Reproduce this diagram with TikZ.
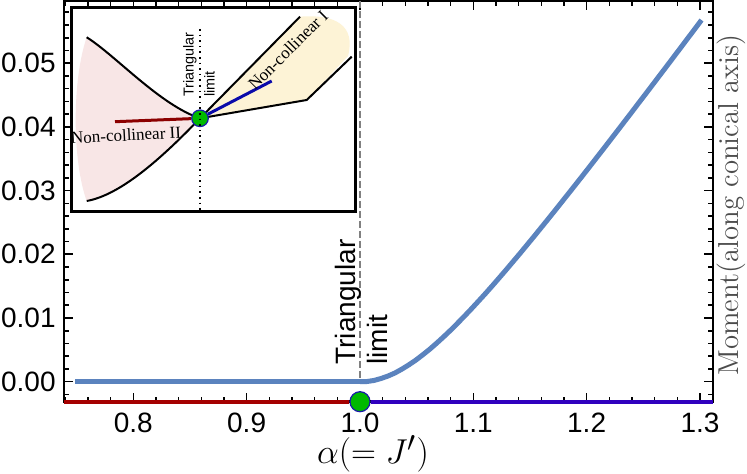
\documentclass[tikz,border=0pt]{standalone}
\usepackage{fontspec}
\setsansfont{Liberation Sans}
\newfontfamily\timesfont{Liberation Serif}
\usetikzlibrary{positioning}
\pgfdeclarelayer{ft}
\pgfsetlayers{main,ft}
\definecolor{curveblue}{RGB}{91,131,190}
\definecolor{lowred}{RGB}{165,0,0}
\definecolor{highblue}{RGB}{48,0,190}
\definecolor{dotgreen}{RGB}{0,185,0}
\definecolor{dotedge}{RGB}{25,25,170}
\definecolor{pinkfill}{RGB}{248,230,230}
\definecolor{creamfill}{RGB}{253,243,214}
\definecolor{incred}{RGB}{140,0,0}
\definecolor{incblue}{RGB}{10,10,170}
\tikzstyle{frame}=[draw=black,line width=1.3pt]
\tikzstyle{tk}=[line width=0.8pt]
\tikzstyle{ticklab}=[font=\sffamily\fontsize{14}{16}\selectfont,inner sep=0pt]
\tikzstyle{curve}=[draw=curveblue,line width=2.5pt]
\tikzstyle{phasedot}=[circle,fill=dotgreen,draw=dotedge,line width=0.6pt,inner sep=0pt]
\tikzstyle{bound}=[draw=black,line width=1pt]
\tikzstyle{inlab}=[font=\timesfont\fontsize{8.5}{10}\selectfont,inner sep=0pt]

\begin{document}
\begin{tikzpicture}[x=0.5pt,y=-0.5pt]
  \useasboundingbox (0,0) rectangle (747,474);
  % frame and ticks
  \draw[frame] (64,1) rectangle (713,401.7);
  \foreach \j in {-1,...,29}{
    \draw[tk] (64,{381.7-12.74*\j}) -- ++(5,0);
    \draw[tk] (713,{381.7-12.74*\j}) -- ++(-5,0);
  }
  \foreach \j in {0,5,...,25}{
    \draw[tk] (64,{381.7-12.74*\j}) -- ++(9,0);
    \draw[tk] (713,{381.7-12.74*\j}) -- ++(-9,0);
  }
  \foreach \i in {37,...,65}{
    \draw[tk] ({360+22.667*(\i-50)},401.7) -- ++(0,-5);
    \draw[tk] ({360+22.667*(\i-50)},1) -- ++(0,5);
  }
  \foreach \i in {40,45,...,65}{
    \draw[tk] ({360+22.667*(\i-50)},401.7) -- ++(0,-9);
    \draw[tk] ({360+22.667*(\i-50)},1) -- ++(0,9);
  }
  \foreach \v [count=\k from 0] in {0.00,0.01,0.02,0.03,0.04,0.05}
    \node[ticklab,anchor=east] (ylab\k) at (56,{381.7-63.7*\k}) {\v};
  \foreach \v [count=\k from 0] in {0.8,0.9,1.0,1.1,1.2,1.3}
    \node[ticklab] (xlab\k) at ({133.3+113.33*\k},423) {\v};
  % triangular limit
  \coordinate (limtop) at (360,1);
  \coordinate (limbot) at (360,381.7);
  \draw[black!50,line width=1pt,dash pattern=on 3.5pt off 1.5pt] (limtop) -- (limbot);
  \node[font=\sffamily\fontsize{14}{16}\selectfont,rotate=90,anchor=west,align=left,inner sep=0pt] (trilim) at (361,365) {Triangular\\limit};
  % moment curve
  \draw[curve] (75,381.7) -- (limbot);
  \draw[curve] plot[domain=0:0.3015,samples=50,variable=\d] ({360+1133.3*\d},{381.7-1560.65*(sqrt(\d*\d+0.0064)-0.08)});
  % phase line on the axis
  \begin{pgfonlayer}{ft}
    \node[phasedot,minimum size=10pt] (dotM) at (360,401.7) {};
  \end{pgfonlayer}
  \coordinate (axl) at (64,401.7);
  \coordinate (axr) at (713,401.7);
  \draw[lowred,line width=2pt] (axl) -- (dotM);
  \draw[highblue,line width=2pt] (dotM) -- (axr);
  % labels
  \node[rotate=90,font=\fontsize{14.4}{16}\selectfont,text=black!70,inner sep=0pt] (momlab) at (731,205) {Moment(along conical axis)};
  \node[font=\fontsize{19}{22}\selectfont,inner sep=0pt] (alphalab) at (373,454) {$\alpha(=J')$};
  % inset
  \draw[fill=white,line width=1.5pt] (71.7,7.3) rectangle (355,211.7);
  \fill[pinkfill] (86.7,201) .. controls (72,160) and (72,80) .. (86.7,37.3) .. controls (115,55) and (160,105) .. (200,118.3) .. controls (160,160) and (120,195) .. (86.7,201) -- cycle;
  \fill[creamfill] (200,118.3) -- (300,16.7) .. controls (335,14) and (356,25) .. (348,56) -- (306.7,100) -- cycle;
  \draw[bound] (86.7,37.3) .. controls (115,55) and (160,105) .. (200,118.3) -- (306.7,100) -- (351.7,56.7);
  \draw[bound] (86.7,201) .. controls (120,195) and (160,160) .. (200,118.3) -- (300,16.7);
  \begin{pgfonlayer}{ft}
    \node[phasedot,minimum size=8.3pt] (dotI) at (200,118.3) {};
    \draw[dotted,line width=0.8pt] (200,29) -- (200,210);
  \end{pgfonlayer}
  \coordinate (ncIIend) at (115,121.7);
  \coordinate (ncIend) at (271.7,81);
  \draw[incred,line width=1.5pt] (ncIIend) -- (dotI);
  \draw[incblue,line width=1.5pt] (dotI) -- (ncIend);
  \node[inlab,rotate=3] (nc2) at (126,135) {Non-collinear II};
  \node[inlab,rotate=45] (nc1) at (288,50) {Non-collinear I};
  \node[font=\sffamily\fontsize{7.2}{10.5}\selectfont,rotate=90,anchor=west,align=left,inner sep=0pt] (tri2) at (199,97) {Triangular\\limit};
\end{tikzpicture}
\end{document}
